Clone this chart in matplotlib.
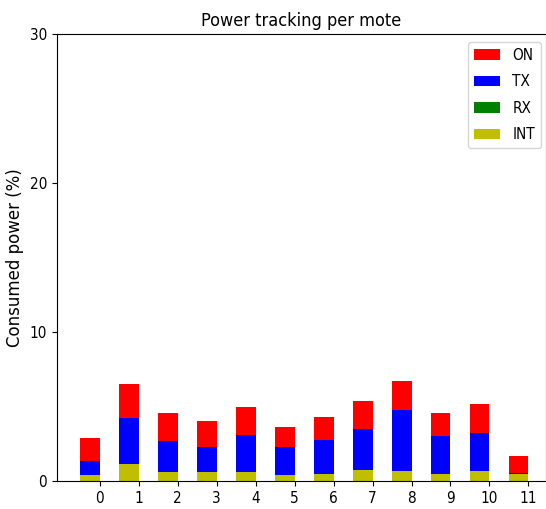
import numpy as np
import matplotlib
matplotlib.use("Agg")
import matplotlib.pyplot as plt

# values (% consumed power per state)
motes = list(range(12))
int_pw = [0.40, 1.16, 0.58, 0.58, 0.58, 0.40, 0.49, 0.76, 0.67, 0.49, 0.67, 0.49]
rx_pw = [0.0] * 12
tx_pw = [0.92, 3.09, 2.10, 1.70, 2.51, 1.88, 2.28, 2.75, 4.07, 2.53, 2.53, 0.03]
on_pw = [1.55, 2.26, 1.88, 1.72, 1.88, 1.32, 1.55, 1.86, 1.95, 1.54, 1.95, 1.14]

plt.rcParams['font.stretch'] = 'condensed'

x = np.array(motes)
w = 0.5
fig = plt.figure(figsize=(5.46, 5.09), dpi=100)
ax = fig.add_axes([0.104, 0.055, 0.896, 0.878])

b_int = ax.bar(x - w, int_pw, w, align='edge', color='y', edgecolor='none')
b_rx = ax.bar(x - w, rx_pw, w, align='edge', bottom=int_pw, color='g', edgecolor='none')
bot = np.array(int_pw) + np.array(rx_pw)
b_tx = ax.bar(x - w, tx_pw, w, align='edge', bottom=bot, color='b', edgecolor='none')
bot = bot + np.array(tx_pw)
b_on = ax.bar(x - w, on_pw, w, align='edge', bottom=bot, color='r', edgecolor='none')

ax.set_xlim(-1.1, 11.45)
ax.set_ylim(0, 30)
ax.set_xticks(x)
ax.set_yticks([0, 10, 20, 30])
ax.tick_params(labelsize=11)
ax.set_ylabel("Consumed power (%)", fontsize=12, fontstretch='normal')
ax.set_title("Power tracking per mote", fontsize=13)
ax.legend([b_on, b_tx, b_rx, b_int], ["ON", "TX", "RX", "INT"], loc='upper right',
          fontsize=11, labelspacing=0.75, handlelength=1.7,
          bbox_to_anchor=(1.006, 1.0))

fig.savefig("out.png", dpi=100)
